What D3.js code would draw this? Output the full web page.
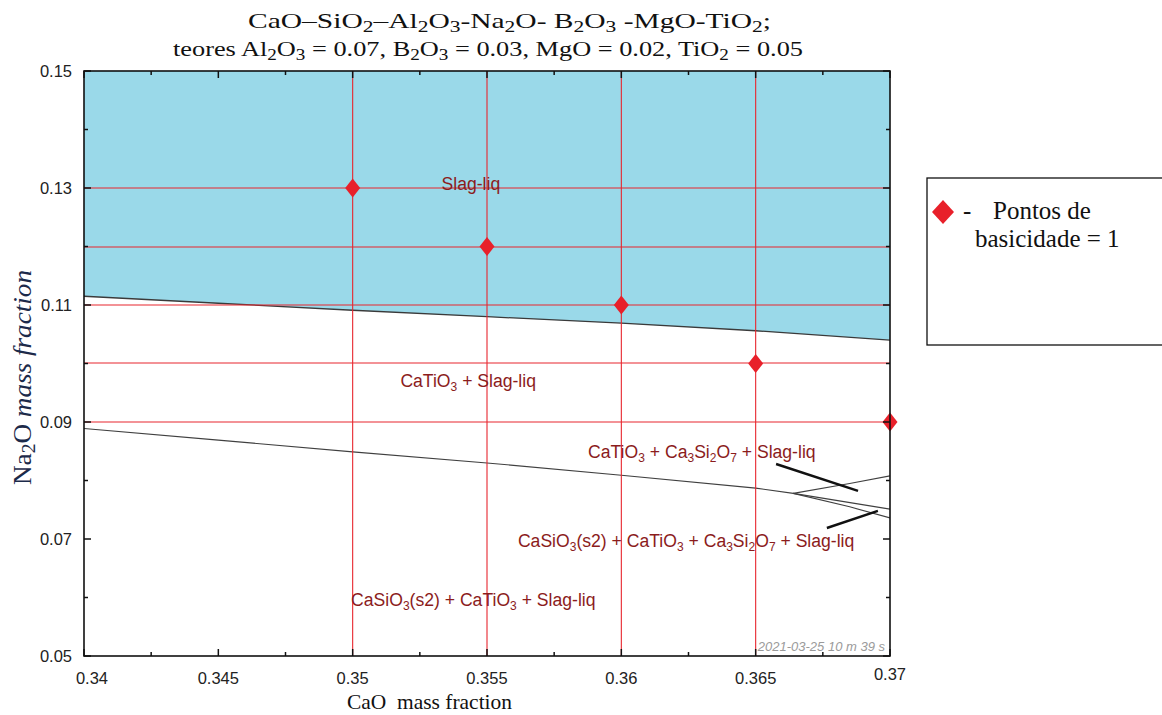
<!DOCTYPE html>
<html>
<head>
<meta charset="utf-8">
<script src="https://cdn.jsdelivr.net/npm/d3@7"></script>
<style>
  body { margin: 0; background: #fff; }
</style>
</head>
<body>
<div id="canvas"></div>
<script>
"use strict"

/*** DATA ***/
// basicity = 1 points (CaO, Na2O)
let pointCaO = [0.35, 0.355, 0.36, 0.365, 0.37]
let pointNa2O = [0.13, 0.12, 0.11, 0.10, 0.09]

// red guide lines
let gridCaO = [0.35, 0.355, 0.36, 0.365]
let gridNa2O = [0.13, 0.12, 0.11, 0.10, 0.09]

// liquidus boundary (top of CaTiO3 + Slag-liq field)
let liqCaO = [0.34, 0.345, 0.35, 0.355, 0.36, 0.365, 0.37]
let liqNa2O = [0.1115, 0.1103, 0.1091, 0.1080, 0.1069, 0.1056, 0.1040]

// lower phase boundary + branches near right edge
let lowCaO = [0.34, 0.345, 0.35, 0.355, 0.36, 0.365, 0.3664, 0.37]
let lowNa2O = [0.0889, 0.0869, 0.0849, 0.0830, 0.0809, 0.0787, 0.0778, 0.0751]
let upBranchCaO = [0.3664, 0.3685, 0.37]
let upBranchNa2O = [0.0778, 0.0795, 0.0808]
let dnBranchCaO = [0.3664, 0.3685, 0.37]
let dnBranchNa2O = [0.0778, 0.0755, 0.0736]

// axis ticks
let xTicks = [0.34, 0.345, 0.35, 0.355, 0.36, 0.365, 0.37]
let xMinor = [0.3425, 0.3475, 0.3525, 0.3575, 0.3625, 0.3675]
let yTicks = [0.05, 0.07, 0.09, 0.11, 0.13, 0.15]
let yMinor = [0.06, 0.08, 0.10, 0.12, 0.14]

/*** CANVAS SETUP ***/
let svgWidth = 1162
let svgHeight = 715
let margin = { top: 71, right: 272, bottom: 59, left: 84 }

let svg = d3.select("#canvas")
    .append("svg")
    .attr("width", svgWidth)
    .attr("height", svgHeight)
    .style("font-family", "Arial, 'Liberation Sans', sans-serif")

let xScale = d3.scaleLinear()
    .domain([0.34, 0.37])
    .range([margin.left, svgWidth - margin.right])

let yScale = d3.scaleLinear()
    .domain([0.05, 0.15])
    .range([svgHeight - margin.bottom, margin.top])

let x0 = xScale.range()[0], x1 = xScale.range()[1]
let y0 = yScale.range()[0], y1 = yScale.range()[1]

/* helper: text with subscripts / italics, parts = [[text, style], ...] */
function richText(sel, parts, subSize, shift) {
    parts.forEach(function (p) {
        let t = sel.append("tspan").text(p[0])
        if (p[1] === "sub") {
            t.attr("font-size", subSize).attr("dy", shift)
        } else if (p[1] === "after") {
            t.attr("dy", -shift)
        } else if (p[1] === "it") {
            t.attr("font-style", "italic")
        }
    })
}
// "_" marks the next char as subscript
function chem(str) {
    let parts = []
    let buf = ""
    let pendingReset = false
    for (let i = 0; i < str.length; i++) {
        if (str[i] === "_") {
            if (buf) { parts.push([buf, pendingReset ? "after" : ""]); buf = ""; pendingReset = false }
            parts.push([str[i + 1], "sub"])
            i++
            pendingReset = true
        } else {
            buf += str[i]
        }
    }
    if (buf) parts.push([buf, pendingReset ? "after" : ""])
    return parts
}

/*** PLOT AREA ***/
svg.append("clipPath").attr("id", "plotclip")
    .append("rect").attr("x", x0).attr("y", y1).attr("width", x1 - x0).attr("height", y0 - y1)

let plot = svg.append("g").attr("clip-path", "url(#plotclip)")

/* blue Slag-liq field */
let liqPts = liqCaO.map(function (c, i) { return [c, liqNa2O[i]] })
let area = d3.area()
    .x(function (d) { return xScale(d[0]) })
    .y0(yScale(0.15))
    .y1(function (d) { return yScale(d[1]) })
plot.append("path")
    .datum(liqPts)
    .attr("d", area)
    .attr("fill", "#9ad9e9")

let line = d3.line()
    .x(function (d) { return xScale(d[0]) })
    .y(function (d) { return yScale(d[1]) })

/* phase boundaries */
plot.append("path")
    .datum(liqPts)
    .attr("d", line)
    .attr("fill", "none")
    .attr("stroke", "#3a3a3a")
    .attr("stroke-width", 1.3)

let lowSets = [[lowCaO, lowNa2O], [upBranchCaO, upBranchNa2O], [dnBranchCaO, dnBranchNa2O]]
lowSets.forEach(function (s) {
    plot.append("path")
        .datum(s[0].map(function (c, i) { return [c, s[1][i]] }))
        .attr("d", line)
        .attr("fill", "none")
        .attr("stroke", "#404040")
        .attr("stroke-width", 1.1)
})

/* red guide lines */
plot.selectAll("line.vgrid")
    .data(gridCaO)
    .join("line")
    .attr("class", "vgrid")
    .attr("x1", function (d) { return xScale(d) })
    .attr("x2", function (d) { return xScale(d) })
    .attr("y1", y1)
    .attr("y2", y0)
    .attr("stroke", "#e8262e")
    .attr("stroke-width", 1.1)

plot.selectAll("line.hgrid")
    .data(gridNa2O)
    .join("line")
    .attr("class", "hgrid")
    .attr("x1", x0)
    .attr("x2", x1)
    .attr("y1", function (d) { return Math.round(yScale(d)) })
    .attr("y2", function (d) { return Math.round(yScale(d)) })
    .attr("stroke", "#e8262e")
    .attr("stroke-width", 1.1)

/* leader lines for the small fields */
let leaders = [
    [[0.36576, 0.08282], [0.36881, 0.07821]],
    [[0.36765, 0.07188], [0.36955, 0.07479]]
]
leaders.forEach(function (l) {
    svg.append("line")
        .attr("x1", xScale(l[0][0])).attr("y1", yScale(l[0][1]))
        .attr("x2", xScale(l[1][0])).attr("y2", yScale(l[1][1]))
        .attr("stroke", "#111")
        .attr("stroke-width", 2.4)
})

/* field labels */
let labelColor = "#8b1c1c"
let fieldLabels = [
    { t: "Slag-liq", c: 0.3544, n: 0.1297, a: "middle" },
    { t: "CaTiO_3 + Slag-liq", c: 0.3543, n: 0.0960, a: "middle" },
    { t: "CaTiO_3 + Ca_3Si_2O_7 + Slag-liq", c: 0.35876, n: 0.08385, a: "start" },
    { t: "CaSiO_3(s2) + CaTiO_3 + Ca_3Si_2O_7 + Slag-liq", c: 0.35615, n: 0.06863, a: "start" },
    { t: "CaSiO_3(s2) + CaTiO_3 + Slag-liq", c: 0.34994, n: 0.05855, a: "start" }
]
fieldLabels.forEach(function (f) {
    let t = svg.append("text")
        .attr("x", xScale(f.c))
        .attr("y", yScale(f.n))
        .attr("text-anchor", f.a)
        .attr("fill", labelColor)
        .attr("font-size", "17.6px")
    richText(t, chem(f.t), "12px", 4)
})

/* timestamp */
svg.append("text")
    .attr("x", x1 - 5)
    .attr("y", y0 - 5)
    .attr("text-anchor", "end")
    .attr("fill", "#9a9a9a")
    .attr("font-size", "13px")
    .attr("font-style", "italic")
    .text("2021-03-25  10 m 39 s")

/* diamonds (taller than wide, as in the reference) */
function diamondPath(w, h) {
    return "M0," + (-h / 2) + "L" + (w / 2) + ",0L0," + (h / 2) + "L" + (-w / 2) + ",0Z"
}
svg.selectAll("path.pt")
    .data(pointCaO.map(function (c, i) { return [c, pointNa2O[i]] }))
    .join("path")
    .attr("class", "pt")
    .attr("d", diamondPath(15, 19))
    .attr("transform", function (d) { return "translate(" + xScale(d[0]) + "," + yScale(d[1]) + ")" })
    .attr("fill", "#e8202a")

/*** AXES (inside ticks on all four sides) ***/
let tickColor = "#111"
function ticksX(vals, len) {
    vals.forEach(function (v) {
        svg.append("line").attr("x1", xScale(v)).attr("x2", xScale(v))
            .attr("y1", y0).attr("y2", y0 - len).attr("stroke", tickColor).attr("stroke-width", 1.5)
        svg.append("line").attr("x1", xScale(v)).attr("x2", xScale(v))
            .attr("y1", y1).attr("y2", y1 + len).attr("stroke", tickColor).attr("stroke-width", 1.5)
    })
}
function ticksY(vals, len) {
    vals.forEach(function (v) {
        svg.append("line").attr("y1", yScale(v)).attr("y2", yScale(v))
            .attr("x1", x0).attr("x2", x0 + len).attr("stroke", tickColor).attr("stroke-width", 1.5)
        svg.append("line").attr("y1", yScale(v)).attr("y2", yScale(v))
            .attr("x1", x1).attr("x2", x1 - len).attr("stroke", tickColor).attr("stroke-width", 1.5)
    })
}
ticksX(xTicks, 7)
ticksX(xMinor, 4)
ticksY(yTicks, 7)
ticksY(yMinor, 4)

svg.append("rect")
    .attr("x", x0).attr("y", y1)
    .attr("width", x1 - x0).attr("height", y0 - y1)
    .attr("fill", "none")
    .attr("stroke", "#111")
    .attr("stroke-width", 1.6)

svg.selectAll("text.xlab")
    .data(xTicks)
    .join("text")
    .attr("class", "xlab")
    .attr("x", function (d, i) { return xScale(d) + (i === 0 ? 8 : 0) })
    .attr("y", function (d, i) { return y0 + (i === xTicks.length - 1 ? 24 : 28) })
    .attr("text-anchor", "middle")
    .attr("font-size", "16.5px")
    .attr("fill", "#222")
    .text(function (d) { return String(+d.toFixed(3)) })

svg.selectAll("text.ylab")
    .data(yTicks)
    .join("text")
    .attr("class", "ylab")
    .attr("x", x0 - 12)
    .attr("y", function (d) { return yScale(d) + 6 })
    .attr("text-anchor", "end")
    .attr("font-size", "16.5px")
    .attr("fill", "#222")
    .text(function (d) { return d.toFixed(2) })

/*** TITLES ***/
let serif = "'Times New Roman', 'Liberation Serif', serif"
let t1 = svg.append("text")
    .attr("x", 248).attr("y", 28)
    .attr("font-family", serif)
    .attr("font-size", "22px")
    .attr("fill", "#111")
    .attr("textLength", 523)
    .attr("lengthAdjust", "spacingAndGlyphs")
richText(t1, chem("CaO–SiO_2–Al_2O_3-Na_2O- B_2O_3 -MgO-TiO_2;"), "16px", 4)

let t2 = svg.append("text")
    .attr("x", 173).attr("y", 56)
    .attr("font-family", serif)
    .attr("font-size", "22px")
    .attr("fill", "#111")
    .attr("textLength", 630)
    .attr("lengthAdjust", "spacingAndGlyphs")
richText(t2, chem("teores Al_2O_3 = 0.07, B_2O_3  = 0.03, MgO = 0.02, TiO_2 = 0.05"), "16px", 4)

svg.append("text")
    .attr("x", 347).attr("y", 709)
    .attr("font-family", serif)
    .attr("font-size", "21px")
    .attr("fill", "#111")
    .attr("xml:space", "preserve")
    .attr("textLength", 165)
    .attr("lengthAdjust", "spacingAndGlyphs")
    .text("CaO  mass fraction")

let yl = svg.append("text")
    .attr("transform", "translate(31,485) rotate(-90)")
    .attr("font-family", serif)
    .attr("font-size", "25px")
    .attr("fill", "#1c2a4a")
    .attr("textLength", 215)
    .attr("lengthAdjust", "spacingAndGlyphs")
let ylParts = chem("Na_2O ")
ylParts.push(["mass fraction", "it"])
richText(yl, ylParts, "18px", 4)

/*** LEGEND ***/
let legend = svg.append("g")
legend.append("rect")
    .attr("x", 927).attr("y", 178)
    .attr("width", 250).attr("height", 167)
    .attr("fill", "#fff")
    .attr("stroke", "#111")
    .attr("stroke-width", 1.3)
legend.append("path")
    .attr("d", diamondPath(22, 24))
    .attr("transform", "translate(943,212)")
    .attr("fill", "#e8202a")
legend.append("text")
    .attr("x", 963).attr("y", 219)
    .attr("font-family", serif).attr("font-size", "25px").attr("fill", "#111")
    .text("-")
legend.append("text")
    .attr("x", 993).attr("y", 219)
    .attr("font-family", serif).attr("font-size", "25px").attr("fill", "#111")
    .text("Pontos de")
legend.append("text")
    .attr("x", 975).attr("y", 247)
    .attr("font-family", serif).attr("font-size", "25px").attr("fill", "#111")
    .text("basicidade = 1")
</script>
</body>
</html>
